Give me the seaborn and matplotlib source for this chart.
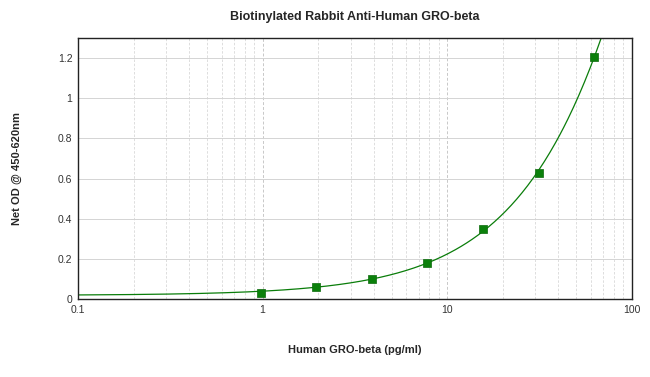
import matplotlib

matplotlib.use("Agg")
import matplotlib.pyplot as plt
import matplotlib.ticker as mticker
import numpy as np
import pandas as pd
import seaborn as sns

conc = [0.98, 1.95, 3.9, 7.8, 15.6, 31.25, 62.5]
od = [0.03, 0.06, 0.10, 0.18, 0.35, 0.63, 1.205]
y_ticks = [0, 0.2, 0.4, 0.6, 0.8, 1.0, 1.2]
x_ticks = [0.1, 1, 10, 100]

df = pd.DataFrame({"conc": conc, "od": od})

# standard curve fit (quadratic in concentration)
coef = np.polyfit(df["conc"], df["od"], 2)
xs = np.logspace(-1, 2, 400)
fit = pd.DataFrame({"conc": xs, "od": np.polyval(coef, xs)})

sns.set_style("white")
plt.rcParams["font.family"] = ["Liberation Sans", "DejaVu Sans"]

fig = plt.figure(figsize=(6.5, 3.77), dpi=100)
ax = fig.add_axes([0.12, 0.207, 0.852, 0.692])

green = "#0a7d0a"
sns.lineplot(data=fit, x="conc", y="od", ax=ax, color=green, linewidth=0.9)
sns.scatterplot(data=df, x="conc", y="od", ax=ax, marker="s", s=36,
                color="#0b800b", edgecolor="#0b6a0b", linewidth=0.5, zorder=5)

ax.set_xscale("log")
ax.set_xlim(0.1, 100)
ax.set_ylim(0, 1.3)
ax.set_xticks(x_ticks)
ax.xaxis.set_major_formatter(mticker.FuncFormatter(lambda v, p: f"{v:g}"))
ax.xaxis.set_minor_locator(mticker.LogLocator(base=10, subs=np.arange(2, 10)))
ax.xaxis.set_minor_formatter(mticker.NullFormatter())
ax.set_yticks(y_ticks)
ax.yaxis.set_major_formatter(mticker.FuncFormatter(lambda v, p: f"{v:g}"))

ax.grid(True, which="major", axis="x", color="#c8c8c8", linestyle=(0, (3, 2)), linewidth=0.7)
ax.grid(True, which="minor", axis="x", color="#d8d8d8", linestyle=(0, (3, 2)), linewidth=0.6)
ax.grid(True, which="major", axis="y", color="#d4d4d4", linestyle="-", linewidth=0.7)
ax.set_axisbelow(True)

ax.tick_params(axis="both", which="both", length=0, labelsize=7.5, colors="#333333", pad=4)
for s in ax.spines.values():
    s.set_color("#222222")
    s.set_linewidth(1.0)

ax.set_xlabel("Human GRO-beta (pg/ml)", fontsize=8, fontweight="bold", labelpad=22)
ax.set_ylabel("Net OD @ 450-620nm", fontsize=8, fontweight="bold", labelpad=26)
ax.set_title("Biotinylated Rabbit Anti-Human GRO-beta", fontsize=9, fontweight="bold", pad=13)

fig.savefig("out.png", dpi=100)
